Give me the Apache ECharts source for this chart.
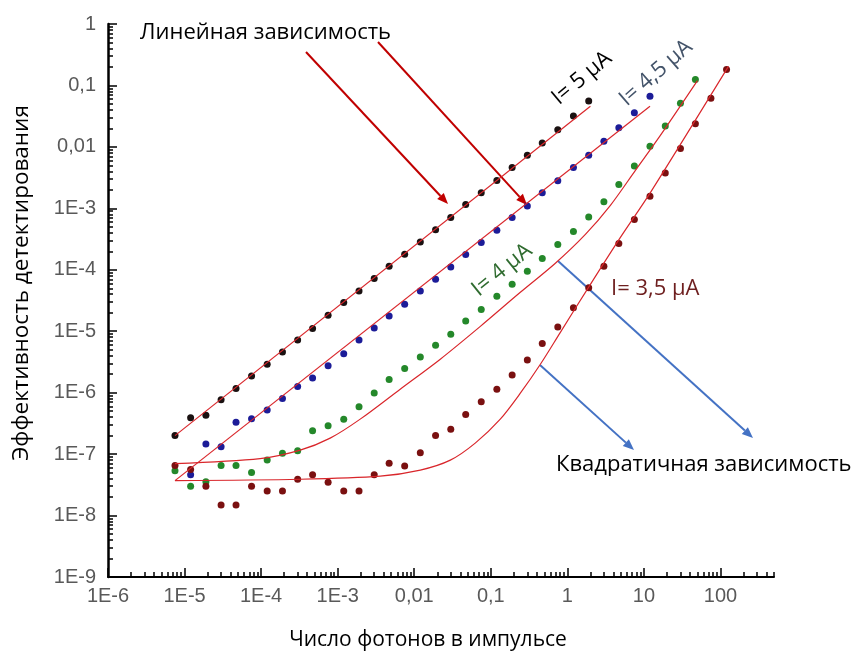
<!DOCTYPE html>
<html>
<head>
<meta charset="utf-8">
<script src="https://cdn.jsdelivr.net/npm/echarts@6/dist/echarts.min.js"></script>
<style>
  html, body { margin: 0; padding: 0; background: #fff; }
  #chart { width: 857px; height: 655px; }
</style>
</head>
<body>
<div id="chart"></div>
<script>
// photon numbers per pulse (shared x grid of the measurements)
const photons = [7.5e-6, 1.2e-5, 1.9e-5, 3.0e-5, 4.7e-5, 7.5e-5, 1.2e-4, 1.9e-4, 3.0e-4, 4.7e-4,
  7.5e-4, 1.2e-3, 1.9e-3, 3.0e-3, 4.7e-3, 7.5e-3, 0.012, 0.019, 0.03, 0.047,
  0.075, 0.12, 0.19, 0.3, 0.47, 0.75, 1.2, 1.9, 3.0, 4.7,
  7.5, 12, 19, 30, 47, 75, 120];

// detection efficiency, each series starts at photons[start]
const eff5 = [2.0e-7, 3.9e-7, 4.3e-7, 7.7e-7, 1.17e-6, 1.87e-6, 2.9e-6, 4.6e-6, 7.2e-6, 1.11e-5,
  1.82e-5, 2.93e-5, 4.5e-5, 7.2e-5, 1.14e-4, 1.79e-4, 2.83e-4, 4.5e-4, 7.1e-4, 1.15e-3,
  1.8e-3, 2.85e-3, 4.6e-3, 7.3e-3, 0.0116, 0.019, 0.0317, 0.056];
const eff45 = [4.6e-8, 1.46e-7, 1.32e-7, 3.3e-7, 3.75e-7, 5.2e-7, 8.0e-7, 1.26e-6, 1.74e-6, 2.73e-6,
  4.3e-6, 7.2e-6, 1.13e-5, 1.77e-5, 2.75e-5, 4.5e-5, 7.0e-5, 1.11e-4, 1.77e-4, 2.77e-4,
  4.4e-4, 7.1e-4, 1.09e-3, 1.8e-3, 2.82e-3, 4.6e-3, 7.3e-3, 0.0123, 0.0205, 0.036, 0.067];
const eff4 = [5.35e-8, 3.0e-8, 3.55e-8, 6.5e-8, 6.5e-8, 5.0e-8, 8.0e-8, 1.03e-7, 1.13e-7, 2.4e-7,
  2.9e-7, 3.7e-7, 5.9e-7, 9.9e-7, 1.64e-6, 2.47e-6, 3.8e-6, 5.9e-6, 8.9e-6, 1.47e-5,
  2.25e-5, 3.7e-5, 5.8e-5, 9.5e-5, 1.52e-4, 2.57e-4, 4.2e-4, 7.2e-4, 1.28e-3, 2.45e-3,
  4.9e-3, 0.0102, 0.0218, 0.0515, 0.125];
const eff35 = [6.5e-8, 5.6e-8, 3.0e-8, 1.48e-8, 1.48e-8, 3.0e-8, 2.5e-8, 2.5e-8, 3.9e-8, 4.6e-8,
  3.5e-8, 2.5e-8, 2.5e-8, 4.6e-8, 7.1e-8, 6.4e-8, 1.05e-7, 2.0e-7, 2.55e-7, 4.4e-7,
  7.1e-7, 1.14e-6, 1.93e-6, 3.4e-6, 6.3e-6, 1.17e-5, 2.4e-5, 5.1e-5, 1.14e-4, 2.67e-4,
  6.6e-4, 1.58e-3, 3.75e-3, 9.4e-3, 0.0238, 0.062, 0.182];

// model curves (red lines)
const fit5 = [[7.5e-6, 2.0e-7], [2.0, 0.046]];
const fit45 = [[7.5e-6, 3.7e-8], [12, 0.046]];
const fit4 = [[7.5e-6, 7.0e-8], [9.7e-5, 8.45e-8], [3.24e-4, 1.16e-7], [7.98e-4, 1.82e-7], [1.97e-3, 3.71e-7],
  [6.56e-3, 1.14e-6], [0.0219, 3.51e-6], [0.073, 1.2e-5], [0.243, 4.3e-5], [0.697, 1.28e-4],
  [1.72, 3.77e-4], [3.65, 1.12e-3], [7.74, 4.15e-3], [16.4, 0.0154], [50, 0.12]];
const fit35 = [[7.5e-6, 3.7e-8], [3.24e-4, 3.9e-8], [3.6e-3, 4.38e-8], [0.012, 5.5e-8], [0.0296, 7.98e-8],
  [0.0626, 1.51e-7], [0.133, 3.71e-7], [0.243, 9.8e-7], [0.444, 2.9e-6], [0.81, 9.6e-6],
  [2.0, 5.8e-5], [4.93, 3.37e-4], [12.2, 1.82e-3], [127, 0.204]];

const xTickLabels = ['1E-6', '1E-5', '1E-4', '1E-3', '0,01', '0,1', '1', '10', '100'];
const yTickLabels = ['1E-9', '1E-8', '1E-7', '1E-6', '1E-5', '1E-4', '1E-3', '0,01', '0,1', '1'];

const X_MIN = 1e-6, X_MAX = 500, Y_MIN = 1e-9, Y_MAX = 1;

function decades(lo, hi) {
  const major = [], minor = [];
  for (let e = Math.round(Math.log10(lo)); Math.pow(10, e) <= hi * 1.0001; e++) {
    const d = Math.pow(10, e);
    major.push(d);
    for (let k = 2; k <= 9; k++) if (k * d <= hi * 1.0001) minor.push(k * d);
  }
  return { major, minor };
}
const xt = decades(X_MIN, X_MAX);
const yt = decades(Y_MIN, Y_MAX);

const pairs = (ys, start) => ys.map((y, i) => [photons[start + i], y]);

function arrow(x1, y1, x2, y2, color) {
  const a = Math.atan2(y2 - y1, x2 - x1), L = 11, W = 4.5;
  const bx = x2 - L * Math.cos(a), by = y2 - L * Math.sin(a);
  return [
    { type: 'line', shape: { x1, y1, x2: bx, y2: by }, style: { stroke: color, lineWidth: 2 } },
    { type: 'polygon', shape: { points: [[x2, y2], [bx + W * Math.sin(a), by - W * Math.cos(a)], [bx - W * Math.sin(a), by + W * Math.cos(a)]] },
      style: { fill: color } }
  ];
}

function label(text, x, y, color, rot, align) {
  return {
    type: 'text', x, y, rotation: (rot || 0) * Math.PI / 180,
    style: { text, fill: color, font: '22px "Open Sans"', align: align || 'left', verticalAlign: 'middle' }
  };
}

const lab = v => Math.round(Math.log10(v));
const axisText = { color: '#595959', fontSize: 20, fontFamily: 'Liberation Sans' };

const chart = echarts.init(document.getElementById('chart'));

const scatter = (name, data, color) => ({
  name, type: 'scatter', data, symbol: 'circle', symbolSize: 7,
  itemStyle: { color, opacity: 1 }, z: 2
});
const fit = (data, smooth) => ({
  type: 'line', data, showSymbol: false, smooth: smooth || 0,
  lineStyle: { color: '#d9262b', width: 1.2 }, z: 3
});

chart.setOption({
  animation: false,
  backgroundColor: '#fff',
  grid: { left: 108, top: 24, right: 83, bottom: 78 },
  xAxis: [{
    type: 'log', min: X_MIN, max: X_MAX, position: 'bottom',
    axisLine: { lineStyle: { color: '#000', width: 2 } },
    axisTick: { inside: true, length: 9, customValues: xt.major, lineStyle: { color: '#000', width: 1.5 } },
    axisLabel: { customValues: xt.major, formatter: v => xTickLabels[lab(v) + 6], margin: 9, ...axisText },
    splitLine: { show: false }
  }, {
    type: 'log', min: X_MIN, max: X_MAX, position: 'bottom',
    axisLine: { show: false },
    axisTick: { inside: true, length: 5, customValues: xt.minor, lineStyle: { color: '#000', width: 1.5 } },
    axisLabel: { show: false },
    splitLine: { show: false }
  }],
  yAxis: [{
    type: 'log', min: Y_MIN, max: Y_MAX, position: 'left',
    axisLine: { lineStyle: { color: '#000', width: 2.5 } },
    axisTick: { inside: true, length: 9, customValues: yt.major, lineStyle: { color: '#000', width: 1.5 } },
    axisLabel: { customValues: yt.major, formatter: v => yTickLabels[lab(v) + 9], margin: 12, ...axisText },
    splitLine: { show: false }
  }, {
    type: 'log', min: Y_MIN, max: Y_MAX, position: 'left',
    axisLine: { show: false },
    axisTick: { inside: true, length: 5, customValues: yt.minor, lineStyle: { color: '#000', width: 1.5 } },
    axisLabel: { show: false },
    splitLine: { show: false }
  }],
  series: [
    scatter('I= 5 µA', pairs(eff5, 0), '#1a1111'),
    scatter('I= 4,5 µA', pairs(eff45, 1), '#1c1c98'),
    scatter('I= 4 µA', pairs(eff4, 0), '#24882a'),
    scatter('I= 3,5 µA', pairs(eff35, 0), '#7a1010'),
    fit(fit5), fit(fit45), fit(fit4, 0.3), fit(fit35, 0.3)
  ],
  graphic: [
    label('Линейная зависимость', 140, 33, '#000'),
    label('Квадратичная зависимость', 556, 465, '#000'),
    label('I= 3,5 µA', 611, 289, '#6e1f1f'),
    label('I= 5 µA', 582, 78, '#000', 40, 'center'),
    label('I= 4,5 µA', 656, 73, '#44546a', 41, 'center'),
    label('I= 4 µA', 502, 270, '#2f6b2f', 39, 'center'),
    ...arrow(306, 52, 448, 204, '#c00000'),
    ...arrow(378, 42, 527, 205, '#c00000'),
    ...arrow(558, 261, 753, 438, '#4472c4'),
    ...arrow(540, 365, 634, 450, '#4472c4'),
    { type: 'text', x: 428, y: 640,
      style: { text: 'Число фотонов в импульсе', fill: '#000', font: '21px "Open Sans"', align: 'center', verticalAlign: 'middle' } },
    { type: 'text', x: 22, y: 283, rotation: Math.PI / 2,
      style: { text: 'Эффективность детектирования', fill: '#000', font: '22.5px "Open Sans"', align: 'center', verticalAlign: 'middle' } }
  ]
});
</script>
</body>
</html>
